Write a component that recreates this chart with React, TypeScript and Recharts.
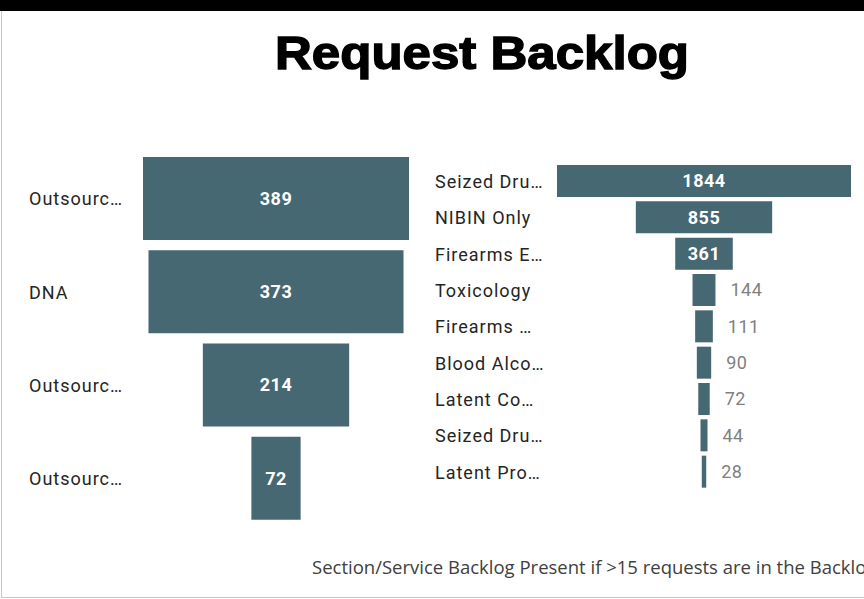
import React from 'react';
import { BarChart, Bar, XAxis, YAxis, LabelList } from 'recharts';

const leftCategories = ['Outsourc…', 'DNA', 'Outsourc…', 'Outsourc…'];
const leftValues = [389, 373, 214, 72];

const rightCategories = [
  'Seized Dru…',
  'NIBIN Only',
  'Firearms E…',
  'Toxicology',
  'Firearms …',
  'Blood Alco…',
  'Latent Co…',
  'Seized Dru…',
  'Latent Pro…',
];
const rightValues = [1844, 855, 361, 144, 111, 90, 72, 44, 28];

const BAR_COLOR = '#466873';
const LABEL_FONT = 'Roboto, "DejaVu Sans", sans-serif';

// funnel = transparent pad + centred value bar, stacked
const toFunnel = (names: string[], values: number[]) => {
  const max = Math.max(...values);
  return names.map((name, i) => ({ name, value: values[i], pad: (max - values[i]) / 2 }));
};

const CategoryTick = ({ y, payload, labelX }: any) => (
  <text
    x={labelX}
    y={y}
    dy="0.38em"
    textAnchor="start"
    fill="#252423"
    fontSize={18}
    letterSpacing={1}
    fontFamily={LABEL_FONT}
  >
    {payload.value}
  </text>
);

const ValueLabel = (props: any) => {
  const { x, y, width, height, value } = props;
  const cy = y + height / 2;
  if (width >= 40) {
    return (
      <text
        x={x + width / 2}
        y={cy}
        dy="0.35em"
        textAnchor="middle"
        fill="#ffffff"
        fontWeight={700}
        fontSize={18}
        letterSpacing={0.5}
        fontFamily={LABEL_FONT}
      >
        {value}
      </text>
    );
  }
  return (
    <text
      x={x + width + 15}
      y={cy}
      dy="0.35em"
      textAnchor="start"
      fill="#7f7f7f"
      fontSize={18}
      letterSpacing={0.5}
      fontFamily={LABEL_FONT}
    >
      {value}
    </text>
  );
};

interface FunnelProps {
  names: string[];
  values: number[];
  width: number;
  height: number;
  axisWidth: number;
  labelX: number;
  barSize: number;
  rightMargin: number;
}

const Funnel = ({ names, values, width, height, axisWidth, labelX, barSize, rightMargin }: FunnelProps) => {
  const data = toFunnel(names, values);
  const max = Math.max(...values);
  return (
    <BarChart
      width={width}
      height={height}
      data={data}
      layout="vertical"
      margin={{ top: 0, right: rightMargin, bottom: 0, left: 0 }}
    >
      <XAxis type="number" domain={[0, max]} hide />
      <YAxis
        type="category"
        dataKey="name"
        width={axisWidth}
        axisLine={false}
        tickLine={false}
        allowDuplicatedCategory
        tick={<CategoryTick labelX={labelX} />}
      />
      <Bar dataKey="pad" stackId="f" fill="transparent" barSize={barSize} isAnimationActive={false} />
      <Bar dataKey="value" stackId="f" fill={BAR_COLOR} barSize={barSize} isAnimationActive={false}>
        <LabelList dataKey="value" content={<ValueLabel />} />
      </Bar>
    </BarChart>
  );
};

export default function App() {
  return (
    <div
      style={{
        position: 'absolute',
        left: 0,
        top: 0,
        width: 864,
        height: 599,
        overflow: 'hidden',
        background: '#ffffff',
      }}
    >
      <div style={{ position: 'absolute', left: 0, top: 0, width: 864, height: 11, background: '#000' }} />
      <div style={{ position: 'absolute', left: 1, top: 11, width: 1, height: 586, background: '#c8c8c8' }} />
      <div style={{ position: 'absolute', left: 1, top: 597, width: 863, height: 1, background: '#c8c8c8' }} />

      <svg style={{ position: 'absolute', left: 0, top: 0 }} width={864} height={100}>
        <text
          x={482}
          y={69}
          textAnchor="middle"
          fontFamily='"Liberation Sans", Arial, sans-serif'
          fontWeight={700}
          fontSize={47}
          fill="#000"
          stroke="#000"
          strokeWidth={1.4}
          textLength={414}
          lengthAdjust="spacingAndGlyphs"
        >
          Request Backlog
        </text>
      </svg>

      <div style={{ position: 'absolute', left: 0, top: 152 }}>
        <Funnel
          names={leftCategories}
          values={leftValues}
          width={430}
          height={373}
          axisWidth={143}
          labelX={29}
          barSize={83}
          rightMargin={21}
        />
      </div>

      <div style={{ position: 'absolute', left: 420, top: 163 }}>
        <Funnel
          names={rightCategories}
          values={rightValues}
          width={444}
          height={327}
          axisWidth={137}
          labelX={15}
          barSize={32}
          rightMargin={13}
        />
      </div>

      <div
        style={{
          position: 'absolute',
          left: 312,
          top: 554,
          whiteSpace: 'nowrap',
          fontFamily: '"Open Sans", "Noto Sans", sans-serif',
          fontSize: 18.5,
          color: '#404040',
        }}
      >
        Section/Service Backlog Present if &gt;15 requests are in the Backlog
      </div>
    </div>
  );
}
